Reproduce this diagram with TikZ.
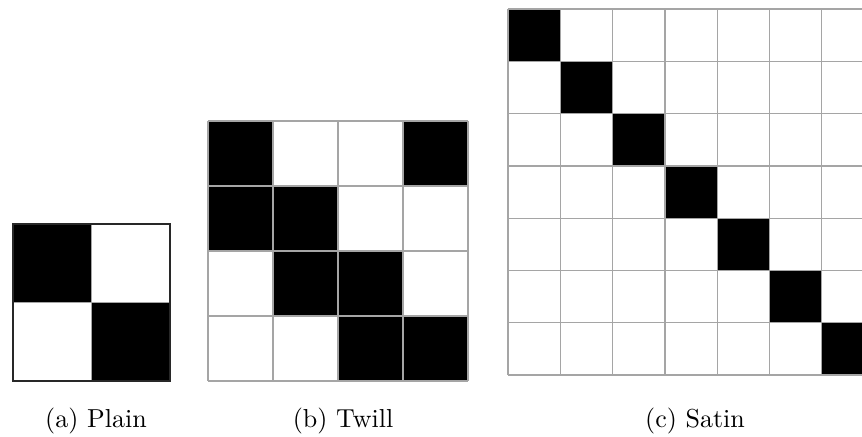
\documentclass[tikz,border=0pt]{standalone}
\usepackage{tikz}
\definecolor{gridgray}{RGB}{165,165,165}
\definecolor{rimgray}{RGB}{40,40,40}
\tikzset{
  weftline/.style={draw=gridgray, line width=0.55pt},
  rimline/.style={draw=rimgray, line width=0.9pt},
  caption/.style={anchor=base, inner sep=0pt, font=\fontsize{10.4}{12}\selectfont}
}

\begin{document}
\begin{tikzpicture}[x=0.4pt, y=-0.4pt]
  \useasboundingbox (0,0) rectangle (862,436);

  % plain weave, 2x2
  \foreach \r/\c in {0/0, 1/1}
    \fill (13+78.5*\c, 224+78.5*\r) rectangle ++(78.5,78.5);
  \draw[weftline] (91.5,224) -- (91.5,381) (13,302.5) -- (170,302.5);
  \draw[rimline] (13,224) rectangle (170,381);

  % twill weave, 4x4
  \foreach \r/\c in {0/0, 0/3, 1/0, 1/1, 2/1, 2/2, 3/2, 3/3}
    \fill (208+65*\c, 121+65*\r) rectangle ++(65,65);
  \foreach \i in {0,...,4} {
    \draw[weftline] (208+65*\i,121) -- (208+65*\i,381);
    \draw[weftline] (208,121+65*\i) -- (468,121+65*\i);
  }

  % satin weave, 7x7 (cut off on the right)
  \begin{scope}
    \clip (0,0) rectangle (862,436);
    \foreach \i in {0,...,6}
      \fill (508+52.3*\i, 9+52.3*\i) rectangle ++(52.3,52.3);
    \foreach \i in {0,...,7} {
      \draw[weftline] (508+52.3*\i,9) -- (508+52.3*\i,375);
      \draw[weftline] (508,9+52.3*\i) -- (874,9+52.3*\i);
    }
  \end{scope}

  \node[caption] (capPlain) at (96,427) {(a) Plain};
  \node[caption] (capTwill) at (343,427) {(b) Twill};
  \node[caption] (capSatin) at (695,427) {(c) Satin};
\end{tikzpicture}
\end{document}
